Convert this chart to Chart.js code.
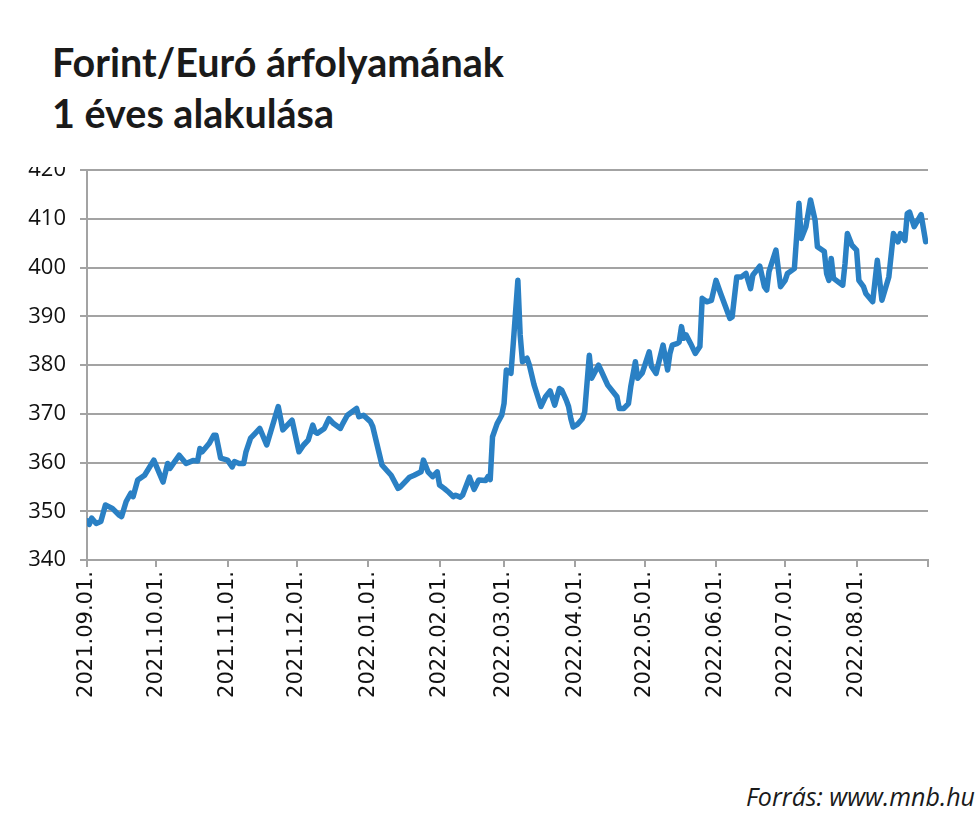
<!DOCTYPE html>
<html lang="hu">
<head>
<meta charset="utf-8">
<title>Forint/Euró árfolyamának 1 éves alakulása</title>
<script src="https://cdn.jsdelivr.net/npm/chart.js@4.4.1/dist/chart.umd.min.js"></script>
<style>
    html, body {
        margin: 0;
        padding: 0;
        background: #fff;
    }
    .page {
        position: relative;
        width: 980px;
        height: 819px;
        overflow: hidden;
    }
    .title {
        position: absolute;
        left: 52px;
        top: 36px;
        font-family: Lato, "Open Sans", sans-serif;
        font-weight: 700;
        font-size: 39.5px;
        line-height: 51px;
        color: #1a1a1a;
    }
    /* clips the top half of the "420" label like in the original */
    .chart-wrap {
        position: absolute;
        left: 0;
        top: 167px;
        width: 980px;
        height: 543px;
        overflow: hidden;
    }
    .chart-wrap canvas {
        display: block;
        margin-top: -24px;
    }
    .source {
        position: absolute;
        right: 5px;
        top: 779px;
        font-family: "Open Sans", sans-serif;
        font-style: italic;
        font-size: 25px;
        line-height: 34px;
        color: #1a1a1a;
    }
</style>
</head>
<body>
<div class="page">
    <div class="title">Forint/Euró árfolyamának<br>1 éves alakulása</div>
    <div class="chart-wrap">
        <canvas id="rateChart" width="980" height="567"></canvas>
    </div>
    <div class="source">Forrás: www.mnb.hu</div>
</div>

<script>
// days since 2021.09.01.
const dayOffsets = [
    0, 1, 2, 4, 6, 8, 11, 14, 15, 17, 19, 20, 22, 25, 29, 33, 35, 36, 40, 43,
    46, 48, 49, 50, 53, 55, 56, 58, 61, 63, 64, 66, 68, 69, 71, 73, 75, 78, 83, 85,
    89, 92, 94, 96, 98, 99, 100, 103, 105, 107, 110, 111, 113, 117, 118, 120, 123, 124, 127, 128,
    132, 135, 136, 139, 140, 142, 145, 146, 148, 150, 152, 153, 155, 157, 159, 160, 162, 163, 166, 168,
    170, 173, 174, 175, 176, 178, 180, 181, 182, 184, 185, 187, 188, 189, 191, 192, 194, 197, 199, 201,
    203, 205, 206, 208, 209, 210, 211, 213, 215, 216, 218, 219, 222, 223, 226, 230, 231, 233, 235, 236,
    238, 239, 241, 244, 245, 247, 250, 252, 253, 254, 256, 257, 258, 259, 260, 262, 264, 266, 267, 269,
    271, 273, 275, 279, 280, 282, 284, 286, 288, 289, 292, 294, 295, 296, 299, 301, 303, 304, 307, 309,
    310, 312, 314, 316, 317, 320, 321, 322, 323, 324, 328, 329, 330, 332, 334, 335, 337, 338, 341, 343,
    345, 348, 350, 352, 353, 355, 356, 357, 359, 362, 364
];

// HUF per EUR
const eurHuf = [
    348.0, 347.3, 348.6, 347.5, 347.9, 351.3, 350.6, 349.2, 348.9, 352.0, 353.7, 353.0, 356.4, 357.4, 360.5, 356.0, 359.8, 358.8, 361.5, 359.8,
    360.4, 360.3, 362.9, 362.2, 363.9, 365.6, 365.6, 360.9, 360.5, 359.1, 360.2, 359.8, 359.8, 362.2, 365.0, 366.0, 367.0, 363.6, 371.5, 366.7,
    368.7, 362.2, 363.6, 364.6, 367.7, 366.3, 366.0, 367.0, 369.0, 368.0, 367.0, 368.0, 369.7, 371.1, 369.4, 369.7, 368.4, 367.4, 361.5, 359.5,
    357.4, 354.7, 355.0, 356.5, 357.0, 357.4, 358.1, 360.5, 358.1, 357.1, 358.1, 355.4, 354.7, 353.9, 353.0, 353.3, 352.9, 353.3, 357.0, 354.5,
    356.4, 356.3, 357.1, 356.5, 365.3, 368.0, 369.7, 372.1, 379.0, 378.3, 384.4, 397.4, 386.2, 380.7, 381.4, 380.0, 376.0, 371.5, 373.5, 374.7,
    371.8, 375.2, 374.9, 372.8, 371.5, 369.0, 367.3, 367.9, 369.0, 370.4, 382.0, 377.3, 380.0, 379.0, 375.9, 373.5, 371.1, 371.1, 372.1, 375.6,
    380.7, 377.3, 378.4, 382.7, 379.7, 378.3, 384.1, 379.0, 382.4, 384.1, 384.4, 384.7, 387.9, 385.5, 386.2, 384.4, 382.4, 383.8, 393.7, 393.0,
    393.3, 397.4, 394.7, 389.6, 389.9, 398.1, 398.1, 398.8, 395.7, 398.5, 400.3, 396.1, 395.4, 399.2, 403.6, 396.1, 397.4, 398.8, 399.8, 413.2,
    406.0, 408.4, 413.9, 409.7, 404.3, 403.3, 398.8, 397.4, 401.9, 397.8, 396.4, 400.9, 407.0, 404.6, 403.6, 397.4, 396.1, 394.7, 393.0, 401.5,
    393.3, 398.1, 407.0, 405.3, 407.0, 405.6, 411.1, 411.4, 408.4, 410.9, 405.3
];

const monthLabels = [
    '2021.09.01.', '2021.10.01.', '2021.11.01.', '2021.12.01.',
    '2022.01.01.', '2022.02.01.', '2022.03.01.', '2022.04.01.',
    '2022.05.01.', '2022.06.01.', '2022.07.01.', '2022.08.01.'
];

const yMin = 340;
const yMax = 420;
const yStep = 10;

const LINE_BLUE = '#2a80c4';
const GRID_GRAY = '#a3a3a3';

document.addEventListener('DOMContentLoaded', () => {
    try {
        createRateChart();
    } catch (error) {
        console.error('Chart failed to initialize:', error);
    }
});

/**
 * Turns "2021.09.01." into a day count from the first label.
 */
function dayIndex(label) {
    const [y, m, d] = label.split('.').map(Number);
    const start = Date.UTC(2021, 8, 1);
    return Math.round((Date.UTC(y, m - 1, d) - start) / 86400000);
}

function createRateChart() {
    const ctx = document.getElementById('rateChart')?.getContext('2d');
    if (!ctx) return;

    // month boundaries, plus the closing tick at 2022.09.01.
    const tickDays = monthLabels.map(dayIndex);
    const endDay = dayIndex('2022.09.01.');
    tickDays.push(endDay);

    const points = dayOffsets.map((d, i) => ({ x: d, y: eurHuf[i] }));

    new Chart(ctx, {
        type: 'line',
        data: {
            datasets: [{
                label: 'EUR/HUF',
                data: points,
                borderColor: LINE_BLUE,
                borderWidth: 5.5,
                pointRadius: 0,
                tension: 0,
                fill: false,
                borderJoinStyle: 'round',
                borderCapStyle: 'round'
            }]
        },
        options: {
            responsive: false,
            animation: false,
            devicePixelRatio: 1,
            layout: {
                padding: { top: 20, right: 52, left: 0, bottom: 0 }
            },
            plugins: {
                legend: { display: false },
                tooltip: { enabled: false }
            },
            scales: {
                x: {
                    type: 'linear',
                    min: 0,
                    max: endDay,
                    afterBuildTicks: (scale) => {
                        scale.ticks = tickDays.map(v => ({ value: v }));
                    },
                    afterFit: (scale) => {
                        scale.height = 150;
                    },
                    ticks: {
                        autoSkip: false,
                        minRotation: 90,
                        maxRotation: 90,
                        padding: 4,
                        color: '#111',
                        font: { family: '"DejaVu Sans", sans-serif', size: 21 },
                        callback: (value, index) => monthLabels[index] || ''
                    },
                    grid: {
                        drawOnChartArea: false,
                        drawTicks: true,
                        tickLength: 7,
                        color: GRID_GRAY,
                        lineWidth: 2
                    },
                    border: { display: true, color: GRID_GRAY, width: 2 }
                },
                y: {
                    min: yMin,
                    max: yMax,
                    afterFit: (scale) => {
                        scale.width = 87;
                    },
                    ticks: {
                        stepSize: yStep,
                        padding: 14,
                        color: '#111',
                        font: { family: '"Open Sans", sans-serif', size: 22 }
                    },
                    grid: {
                        color: GRID_GRAY,
                        lineWidth: 2,
                        tickLength: 7
                    },
                    border: { display: true, color: GRID_GRAY, width: 2 }
                }
            }
        }
    });
}
</script>
</body>
</html>
